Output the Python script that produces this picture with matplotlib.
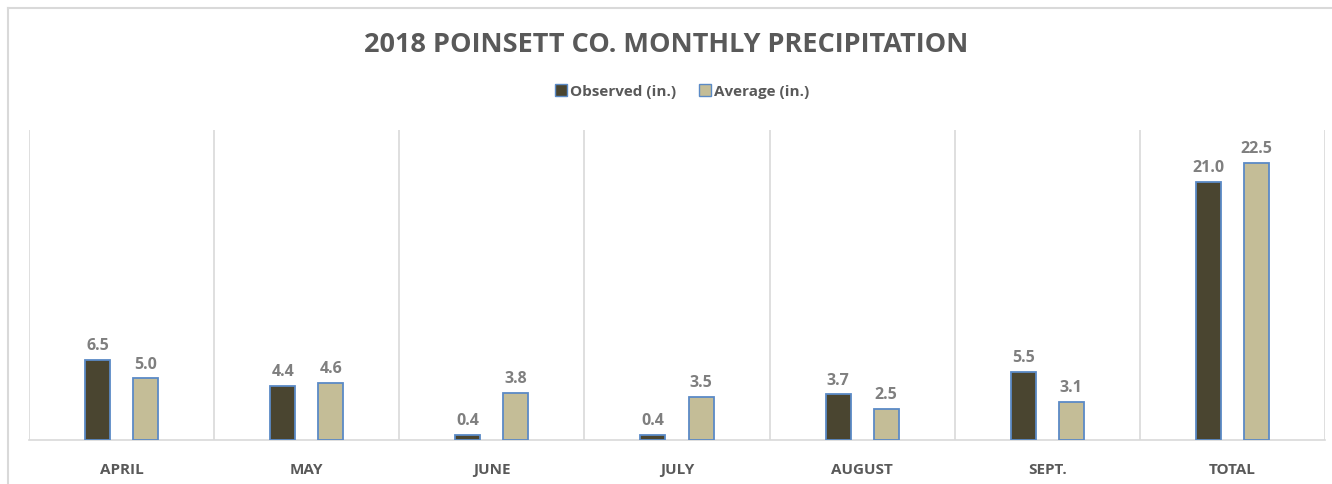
import numpy as np
import matplotlib; matplotlib.use("Agg")
import matplotlib.pyplot as plt
from matplotlib.patches import Patch
from matplotlib.lines import Line2D

plt.rcParams['font.family'] = ['Open Sans', 'DejaVu Sans']

categories = ["APRIL", "MAY", "JUNE", "JULY", "AUGUST", "SEPT.", "TOTAL"]
observed = [6.5, 4.4, 0.4, 0.4, 3.7, 5.5, 21.0]
average = [5.0, 4.6, 3.8, 3.5, 2.5, 3.1, 22.5]
series_names = ["Observed (in.)", "Average (in.)"]

C_OBS = "#4a4530"
C_AVG = "#c4bd97"
C_EDGE = "#5b8ac6"
C_GRID = "#d9d9d9"
C_TXT = "#595959"
C_LBL = "#7f7f7f"

W, H = 1332, 485
fig = plt.figure(figsize=(W / 100, H / 100), dpi=100)
ax = fig.add_axes([29 / W, 1 - 441 / H, (1325 - 29) / W, (441 - 131) / H])

x = np.arange(len(categories))
bw = 0.135
off = 0.13
b1 = ax.bar(x - off, observed, bw, color=C_OBS, edgecolor=C_EDGE, linewidth=1.3, zorder=3)
b2 = ax.bar(x + off, average, bw, color=C_AVG, edgecolor=C_EDGE, linewidth=1.3, zorder=3)

for bars, vals in [(b1, observed), (b2, average)]:
    for r, v in zip(bars, vals):
        ax.annotate(f"{v:.1f}", (r.get_x() + r.get_width() / 2, v), xytext=(0, 5),
                    textcoords="offset points", ha="center", va="bottom",
                    fontsize=11.5, fontweight="bold", color=C_LBL)

ax.set_xlim(-0.5, len(categories) - 0.5)
ax.set_ylim(0, 25.2)
ax.set_yticks([])
ax.set_xticks(x)
ax.set_xticklabels(categories, fontsize=11, fontweight="bold", color=C_TXT)
ax.tick_params(axis="x", length=0, pad=16)
ax.set_xticks(np.arange(-0.5, len(categories), 1.0), minor=True)
ax.tick_params(axis="x", which="minor", length=0)
ax.grid(True, which="minor", axis="x", color=C_GRID, lw=1.2, zorder=0)
for s in ["top", "left", "right"]:
    ax.spines[s].set_visible(False)
ax.spines["bottom"].set_color(C_GRID)
ax.spines["bottom"].set_linewidth(1.2)

fig.text(0.5, 1 - 45 / H, "2018 POINSETT CO. MONTHLY PRECIPITATION", ha="center", va="center",
         fontsize=19.5, fontweight="bold", color=C_TXT)

handles = [Patch(facecolor=C_OBS, edgecolor=C_EDGE, label=series_names[0]),
           Patch(facecolor=C_AVG, edgecolor=C_EDGE, label=series_names[1])]
fig.legend(handles=handles, loc="center", bbox_to_anchor=(0.512, 1 - 92 / H), ncol=2,
           frameon=False, handlelength=0.8, handleheight=0.8,
           handletextpad=0.2, columnspacing=1.5,
           prop={"weight": "bold", "size": 11})
for t in fig.legends[0].get_texts():
    t.set_color(C_TXT)

# chart-area border (cropped at right/bottom)
fig.add_artist(Line2D([8 / W, 8 / W], [0, 1 - 8.5 / H], color=C_GRID, lw=1.5))
fig.add_artist(Line2D([8 / W, 1], [1 - 8.5 / H, 1 - 8.5 / H], color=C_GRID, lw=1.5))

fig.savefig("out.png", dpi=100)
